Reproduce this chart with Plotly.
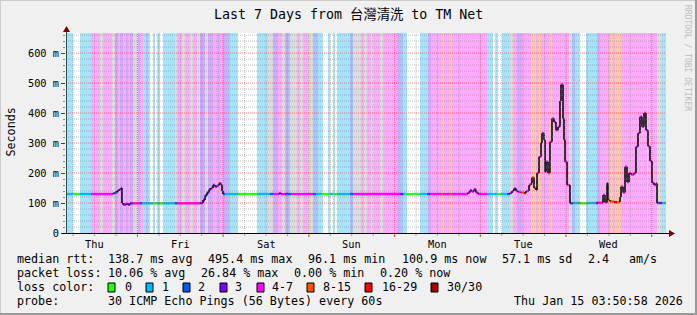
import plotly.graph_objects as go
from datetime import datetime, timedelta

# ---------------- data ----------------
start_time = datetime(2026, 1, 8, 4, 0, 0)
span_hours = 168
y_max_ms = 667

title_text = "Last 7 Days from 台灣清洗 to TM Net"
day_labels = ["Thu", "Fri", "Sat", "Sun", "Mon", "Tue", "Wed"]
y_tick_values = [0, 100, 200, 300, 400, 500, 600]
y_tick_labels = ["0", "100 m", "200 m", "300 m", "400 m", "500 m", "600 m"]

# background loss bands: start hour (from graph start) and loss class
band_start_h = [
    0, 1.96, 3.92, 7.0, 9.52, 10.36, 12.88, 13.72, 14.56, 15.12,
    15.96, 16.8, 17.36, 17.92, 18.76, 20.16, 20.72, 21.56, 22.4, 22.96,
    23.52, 24.36, 24.92, 25.48, 26.32, 27.16, 30.52, 31.08, 32.48, 33.32,
    34.72, 35.56, 36.68, 37.52, 38.92, 39.76, 41.16, 42.28, 43.12, 43.96,
    45.08, 45.92, 48.16, 53.48, 56.56, 57.96, 59.36, 60.48, 61.32, 62.16,
    62.72, 64.68, 65.52, 66.36, 67.76, 69.16, 70.56, 71.96, 73.36, 73.92,
    74.76, 75.32, 75.88, 79.52, 80.36, 82.6, 83.44, 84.28, 85.4, 86.24,
    87.92, 88.76, 92.68, 93.52, 94.36, 95.48, 99.12, 101.36, 102.2, 105.28,
    105.84, 107.52, 108.08, 117.88, 119.56, 120.12, 120.96, 122.08, 124.32, 125.16,
    126.28, 127.68, 130.2, 131.6, 132.16, 133.0, 135.52, 136.08, 140.84, 141.68,
    142.52, 143.96, 145.64, 148.68, 149.52, 152.32, 153.16, 153.72, 155.4, 162.68,
    162.96, 165.48, 166.6,
]
band_loss = list(
    "cwcmgmgpmp" "mpmpgpmcbc" "wcwcwcgmgm" "gmgpgpmpmp" "bcwcgpmgpb"
    "gmgmgbcwcw" "cwcbgmgmgm" "gmpbcwcpmo" "momcwcwcgm" "pmomomomgb"
    "cwcpmomomo" "mgc"
)

# median rtt (ms) with loss count per step
median_h = [
    0, 1.96, 3.92, 7.0, 13.16, 13.72, 14.28, 14.84, 15.4, 15.68,
    15.96, 16.8, 17.36, 17.92, 18.76, 20.72, 21.28, 24.36, 25.48, 26.32,
    27.16, 30.52, 31.08, 37.52, 38.36, 38.92, 39.48, 40.04, 40.6, 41.16,
    41.72, 42.28, 42.84, 43.4, 43.68, 43.96, 44.52, 48.16, 53.48, 57.12,
    57.96, 59.64, 60.2, 61.32, 62.16, 63.0, 69.16, 70.0, 71.68, 73.92,
    74.76, 75.88, 79.52, 80.36, 93.52, 94.36, 94.92, 99.12, 101.08, 101.92,
    105.0, 105.56, 107.52, 108.08, 112.56, 113.12, 113.68, 114.24, 114.8, 115.36,
    117.88, 120.68, 121.8, 123.48, 124.32, 124.88, 125.44, 126.0, 126.56, 127.4,
    128.24, 128.8, 129.64, 130.2, 130.48, 131.04, 131.6, 131.88, 132.44, 133.0,
    133.28, 133.84, 134.12, 134.4, 134.96, 135.52, 136.08, 136.64, 137.2, 137.76,
    138.32, 138.6, 139.16, 139.44, 139.72, 140.28, 141.12, 141.96, 143.92, 145.88,
    148.4, 148.96, 150.36, 150.92, 151.48, 151.76, 152.32, 153.44, 154.28, 155.12,
    155.4, 155.96, 156.52, 157.08, 157.64, 158.2, 159.04, 159.6, 160.16, 160.72,
    161.28, 161.84, 162.4, 162.96, 163.52, 164.08, 164.64, 165.2, 165.48, 166.04,
    166.88,
]
median_ms = [
    130, 130, 130, 130, 132, 135, 140, 145, 150, 100,
    95, 97, 95, 99, 99, 99, 99, 99, 99, 99,
    99, 99, 99, 100, 110, 125, 135, 145, 150, 160,
    155, 158, 165, 160, 140, 130, 130, 130, 130, 130,
    130, 132, 130, 130, 130, 130, 130, 130, 130, 130,
    130, 130, 130, 130, 130, 130, 130, 130, 130, 130,
    130, 130, 130, 130, 135, 142, 138, 145, 135, 130,
    130, 130, 130, 130, 133, 140, 148, 140, 137, 135,
    133, 140, 160, 166, 185, 150, 143, 200, 254, 300,
    333, 311, 204, 238, 200, 304, 382, 370, 343, 354,
    440, 495, 382, 311, 238, 160, 99, 100, 99, 100,
    100, 101, 127, 102, 166, 110, 105, 103, 103, 120,
    154, 135, 221, 170, 200, 195, 200, 288, 333, 388,
    354, 400, 343, 289, 240, 168, 160, 165, 100, 100,
    100,
]
median_loss = [
    1, 0, 1, 4, 2, 3, 3, 4, 3, 3,
    3, 3, 3, 3, 4, 2, 1, 0, 1, 0,
    1, 2, 4, 3, 3, 2, 3, 3, 4, 3,
    3, 4, 3, 4, 4, 2, 1, 0, 1, 2,
    4, 3, 4, 3, 2, 4, 2, 1, 0, 1,
    0, 1, 2, 4, 3, 1, 0, 1, 2, 4,
    8, 4, 8, 4, 4, 3, 4, 3, 4, 4,
    1, 0, 1, 2, 4, 4, 3, 4, 4, 8,
    16, 4, 4, 4, 8, 8, 4, 4, 4, 4,
    4, 4, 4, 4, 4, 4, 4, 4, 4, 4,
    4, 4, 4, 4, 4, 4, 2, 1, 0, 1,
    3, 4, 4, 4, 4, 8, 8, 16, 8, 4,
    4, 4, 4, 4, 4, 4, 4, 4, 4, 4,
    4, 4, 4, 4, 4, 4, 4, 4, 2, 3,
    1,
]

loss_levels = [0, 1, 2, 3, 4, 8, 16, 30]
loss_labels = ["0", "1", "2", "3", "4-7", "8-15", "16-29", "30/30"]
loss_colors = ["#26ff00", "#00b8ff", "#0059ff", "#7e00ff", "#ff00ff", "#ff5500", "#ff0000", "#a00000"]

rtt_stats = ["138.7 ms avg", "495.4 ms max", "96.1 ms min", "100.9 ms now", "57.1 ms sd", "2.4", "am/s"]
loss_stats = ["10.06 % avg", "26.84 % max", "0.00 % min", "0.20 % now"]
probe_text = "30 ICMP Echo Pings (56 Bytes) every 60s"
stamp_text = "Thu Jan 15 03:50:58 2026"

# ---------------- style ----------------
W, H = 697, 315
L, R, T, B = 66, 666, 33, 233
MONO = "DejaVu Sans Mono, Noto Sans CJK TC, monospace"
band_colors = {"w": "#ffffff", "c": "#a6e4fb", "b": "#aac4ff", "p": "#d2aaff",
               "m": "#ffaaff", "o": "#ffc8a6", "g": "#dcdcdc"}
AXIS_C = "#2c4d43"
ARROW_C = "#7f0000"


def tm(h):
    return start_time + timedelta(hours=h)


def px(x):
    return (x - L) / (R - L)


def py(y):
    return (B - y) / (B - T)


end_time = tm(span_hours)
fig = go.Figure()

# background loss bands
bx, bw, bc = [], [], []
edges = band_start_h + [span_hours]
for i, code in enumerate(band_loss):
    a, b = edges[i], edges[i + 1]
    bx.append(tm((a + b) / 2))
    bw.append((b - a) * 3600 * 1000)
    bc.append(band_colors[code])
fig.add_trace(go.Bar(x=bx, y=[y_max_ms] * len(bx), width=bw, marker=dict(color=bc, line=dict(width=0)),
                     showlegend=False, hoverinfo="skip"))

mh = median_h + [span_hours]

# colored horizontal pieces by loss
for lvl, col in zip(loss_levels, loss_colors):
    xs, ys = [], []
    for i in range(len(median_h)):
        if median_loss[i] == lvl:
            xs += [tm(mh[i]), tm(mh[i + 1]), None]
            ys += [median_ms[i], median_ms[i], None]
    if xs:
        fig.add_trace(go.Scatter(x=xs, y=ys, mode="lines", line=dict(color=col, width=2.4),
                                 showlegend=False, hoverinfo="skip", connectgaps=False))

# black vertical connectors between steps
vx, vy = [], []
for i in range(len(median_h) - 1):
    if median_ms[i] != median_ms[i + 1]:
        vx += [tm(median_h[i + 1]), tm(median_h[i + 1]), None]
        vy += [median_ms[i], median_ms[i + 1], None]
fig.add_trace(go.Scatter(x=vx, y=vy, mode="lines", line=dict(color="#151515", width=1.7),
                         showlegend=False, hoverinfo="skip", connectgaps=False))

shapes = []
# grid (drawn on top, dotted)
t = datetime(2026, 1, 8, 6, 0, 0)
while t < end_time:
    major = t.hour == 0
    shapes.append(dict(type="line", xref="x", yref="paper", x0=t, x1=t, y0=0, y1=1, layer="above",
                       line=dict(color="rgba(255,0,0,0.45)" if major else "rgba(128,128,128,0.5)",
                                 width=1, dash="1px,1px")))
    shapes.append(dict(type="line", xref="x", yref="paper", x0=t, x1=t, y0=0, y1=-0.015 if not major else -0.02,
                       line=dict(color="#cc4444" if major else "#999999", width=1)))
    t += timedelta(hours=6)
for v in range(20, y_max_ms, 20):
    major = v % 100 == 0
    shapes.append(dict(type="line", xref="paper", yref="y", x0=0, x1=1, y0=v, y1=v, layer="above",
                       line=dict(color="rgba(255,0,0,0.45)" if major else "rgba(128,128,128,0.5)",
                                 width=1, dash="1px,1px")))

# axes lines and arrows
shapes.append(dict(type="line", xref="paper", yref="paper", x0=px(66.5), x1=px(66.5), y0=py(233), y1=py(29),
                   line=dict(color=AXIS_C, width=1), layer="above"))
shapes.append(dict(type="line", xref="paper", yref="paper", x0=px(62), x1=px(670), y0=py(233.5), y1=py(233.5),
                   line=dict(color="#000000", width=1), layer="above"))
shapes.append(dict(type="path", xref="paper", yref="paper",
                   path=f"M {px(66.5)} {py(26)} L {px(63)} {py(32)} L {px(70)} {py(32)} Z",
                   fillcolor=ARROW_C, line=dict(width=0), layer="above"))
shapes.append(dict(type="path", xref="paper", yref="paper",
                   path=f"M {px(675)} {py(233.5)} L {px(669)} {py(230)} L {px(669)} {py(237)} Z",
                   fillcolor=ARROW_C, line=dict(width=0), layer="above"))

# frame
shapes.append(dict(type="line", xref="paper", yref="paper", x0=px(0), x1=px(697), y0=py(0.5), y1=py(0.5),
                   line=dict(color="#cbcbcb", width=1)))
shapes.append(dict(type="line", xref="paper", yref="paper", x0=px(0.5), x1=px(0.5), y0=py(0), y1=py(315),
                   line=dict(color="#cbcbcb", width=1)))
shapes.append(dict(type="line", xref="paper", yref="paper", x0=px(0), x1=px(697), y0=py(314), y1=py(314),
                   line=dict(color="#999999", width=2)))
shapes.append(dict(type="line", xref="paper", yref="paper", x0=px(696), x1=px(696), y0=py(0), y1=py(315),
                   line=dict(color="#999999", width=2)))

# legend color boxes
box_x = [108, 146, 183, 220, 257, 307, 365, 431]
for bxp, col in zip(box_x, loss_colors):
    shapes.append(dict(type="rect", xref="paper", yref="paper", x0=px(bxp), x1=px(bxp + 7), y0=py(283), y1=py(292),
                       fillcolor=col, line=dict(color="#000000", width=1)))

annotations = []


def text(x, y, s, size=11.7, anchor="left", color="#000000", angle=0):
    annotations.append(dict(x=px(x), y=py(y), xref="paper", yref="paper", text=s, showarrow=False,
                            xanchor=anchor, yanchor="middle", textangle=angle,
                            font=dict(family=MONO, size=size, color=color), borderpad=0))


text(348, 14, title_text, size=13.3, anchor="center")
text(10.5, 132, "Seconds", size=11.7, anchor="center", angle=-90)
text(688, 58, "RRDTOOL / TOBI OETIKER", size=8, anchor="center", color="#bdbdbd", angle=90)

# day labels at noon
for i, d in enumerate(day_labels):
    noon = datetime(2026, 1, 8, 12, 0, 0) + timedelta(days=i)
    annotations.append(dict(x=noon, y=py(243.5), xref="x", yref="paper", text=d, showarrow=False,
                            xanchor="center", yanchor="middle", font=dict(family=MONO, size=10.3, color="#000000")))

text(16, 259, "median rtt:")
for xp, s in zip([107, 207, 307, 401, 501, 587, 628], rtt_stats):
    text(xp, 259, s)
text(16, 273, "packet loss:")
for xp, s in zip([107, 200, 293, 379], loss_stats):
    text(xp, 273, s)
text(16, 287, "loss color:")
for xp, s in zip([124, 161, 197, 234, 271, 322, 381, 446], loss_labels):
    text(xp, 287, s)
text(16, 301, "probe:")
text(107, 301, probe_text)
text(513, 301, stamp_text)

fig.update_layout(
    width=W, height=H,
    margin=dict(l=L, r=W - R, t=T, b=H - B, pad=0),
    paper_bgcolor="#f0f0f0", plot_bgcolor="#ffffff",
    bargap=0, showlegend=False,
    shapes=shapes, annotations=annotations,
    xaxis=dict(range=[start_time, end_time], showgrid=False, zeroline=False, showticklabels=False,
               ticks="", showline=False, fixedrange=True),
    yaxis=dict(range=[0, y_max_ms], showgrid=False, zeroline=False, showline=False,
               tickmode="array", tickvals=y_tick_values, ticktext=y_tick_labels,
               ticks="outside", ticklen=4, tickcolor=AXIS_C, tickwidth=1,
               tickfont=dict(family=MONO, size=10.3, color="#000000"),
               minor=dict(tickmode="linear", tick0=0, dtick=20, ticks="outside", ticklen=2, tickcolor="#888888"),
               fixedrange=True),
)

fig.write_html("out.html")
